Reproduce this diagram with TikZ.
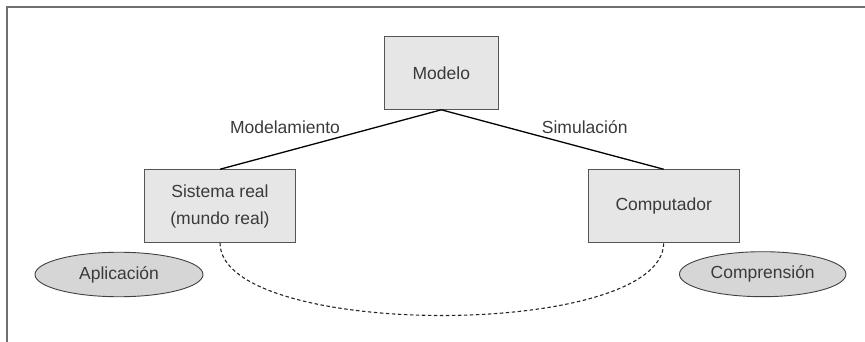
\documentclass[tikz,border=0pt]{standalone}
\usepackage{fontspec}
\setmainfont{Liberation Sans}
\usetikzlibrary{shapes.geometric}
\definecolor{framecol}{HTML}{707070}
\definecolor{boxfill}{HTML}{E6E6E6}
\definecolor{ellfill}{HTML}{D6D6D6}
\definecolor{edgecol}{HTML}{555555}
\definecolor{txtcol}{HTML}{3A3A3A}
\begin{document}
\begin{tikzpicture}[x=1pt,y=-1pt,
  every node/.style={font=\fontsize{17.5}{27}\selectfont, text=txtcol},
  box/.style={draw=edgecol, fill=boxfill, line width=1pt, inner sep=0pt, align=center},
  ell/.style={ellipse, draw=black!75, fill=ellfill, line width=0.9pt, inner sep=0pt},
  conn/.style={draw=black, line width=1.3pt},
  loopline/.style={draw=black!85, line width=1.1pt, dash pattern=on 3.5pt off 2.5pt},
  lbl/.style={inner sep=0pt}]
\useasboundingbox (0,0) rectangle (865,342);
\draw[framecol, line width=2pt] (7,342) -- (7,7) -- (865,7);
\node[box, minimum width=113.5pt, minimum height=72.6pt] (mod) at (441.3,73) {Modelo};
\node[box, minimum width=150.5pt, minimum height=72.5pt] (sis) at (220,206) {Sistema real\\(mundo real)};
\node[box, minimum width=150.8pt, minimum height=72.5pt] (comp) at (663.7,206) {Computador};
\node[ell, minimum width=168pt, minimum height=44.5pt] (apl) at (119,274.5) {Aplicación};
\node[ell, minimum width=166.5pt, minimum height=45pt] (compr) at (762.7,274.2) {Comprensión};
\draw[conn] (mod.south) -- (sis.north);
\draw[conn] (mod.south) -- (comp.north);
\node[lbl] (lmod) at (285,127) {Modelamiento};
\node[lbl] (lsim) at (584.7,127) {Simulación};
\draw[loopline] (sis.south) .. controls +(0,97) and +(0,97) .. (comp.south);
\end{tikzpicture}
\end{document}
